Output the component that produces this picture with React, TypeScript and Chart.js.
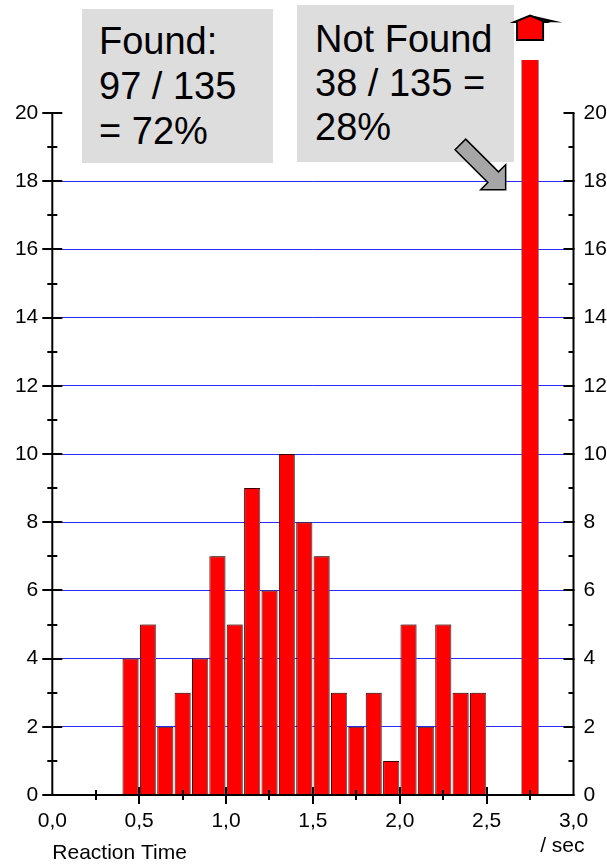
import React, { useEffect, useRef } from "react";
import { Chart, registerables } from "chart.js";

Chart.register(...registerables);

// ---- data ----
const binCenters = [0.45, 0.55, 0.65, 0.75, 0.85, 0.95, 1.05, 1.15, 1.25, 1.35, 1.45, 1.55, 1.65, 1.75, 1.85, 1.95, 2.05, 2.15, 2.25, 2.35, 2.45];
const foundCounts = [4, 5, 2, 3, 4, 7, 5, 9, 6, 10, 8, 7, 3, 2, 3, 1, 5, 2, 5, 3, 3];
const notFoundCenters = [2.75];
const notFoundCounts = [38];

const xMin = 0;
const xMax = 3;
const xStep = 0.5;
const yMin = 0;
const yMax = 20;
const yStep = 2;

const xTitle = "Reaction Time";
const xUnit = "/ sec";
const foundLines = ["Found:", "97 / 135", "= 72%"];
const notFoundLines = ["Not Found", "38 / 135 =", "28%"];

const FONT = "'Liberation Sans', Arial, Helvetica, sans-serif";

const fmtX = (v: number) => v.toFixed(1).replace(".", ",");

const barShadowPlugin = {
  id: "barShadow",
  beforeDatasetDraw(chart: any, args: any) {
    if (args.index !== 0) return;
    const ctx = chart.ctx;
    ctx.save();
    ctx.shadowColor = "rgba(120,120,120,0.9)";
    ctx.shadowOffsetX = 2;
    ctx.shadowOffsetY = 0;
    ctx.shadowBlur = 0;
  },
  afterDatasetDraw(chart: any, args: any) {
    if (args.index !== 0) return;
    chart.ctx.restore();
  },
};

const axesPlugin = {
  id: "customAxes",
  afterDatasetsDraw(chart: any) {
    const { ctx, chartArea: ca, scales } = chart;
    const x = scales.x;
    const y = scales.y;
    ctx.save();
    ctx.strokeStyle = "#000";
    ctx.lineWidth = 2;
    ctx.lineCap = "butt";
    const line = (x1: number, y1: number, x2: number, y2: number) => {
      ctx.beginPath();
      ctx.moveTo(x1, y1);
      ctx.lineTo(x2, y2);
      ctx.stroke();
    };
    line(ca.left, ca.top, ca.left, ca.bottom + 1);
    line(ca.right, ca.top, ca.right, ca.bottom + 1);
    line(ca.left - 1, ca.bottom, ca.right + 1, ca.bottom);
    for (let v = yMin; v <= yMax; v += 1) {
      const py = Math.round(y.getPixelForValue(v));
      const major = v % yStep === 0;
      const l = major ? 10 : 5;
      line(ca.left - l, py, ca.left + l, py);
      if (v !== 0) line(ca.right - l, py, ca.right + (major ? 1 : 0), py);
    }
    for (let i = 1; i < (xMax - xMin) / 0.25; i++) {
      const v = xMin + i * 0.25;
      const px = Math.round(x.getPixelForValue(v));
      const major = i % 2 === 0;
      line(px, ca.bottom - (major ? 8 : 5), px, ca.bottom + (major ? 9 : 5));
    }
    ctx.restore();
  },
  afterDraw(chart: any) {
    const { ctx, chartArea: ca } = chart;
    ctx.save();
    ctx.fillStyle = "#000";
    ctx.font = `21px ${FONT}`;
    ctx.textAlign = "right";
    ctx.textBaseline = "alphabetic";
    ctx.fillText(xUnit, ca.right + 11, ca.bottom + 57);

    const meta = chart.getDatasetMeta(1);
    const bar = meta.data[0];
    if (bar) {
      const bx = bar.x;
      const t = ca.top;
      ctx.lineJoin = "miter";
      ctx.fillStyle = "#000";
      ctx.beginPath();
      ctx.moveTo(bx, t - 98);
      ctx.lineTo(bx + 32.5, t - 90.5);
      ctx.lineTo(bx + 15, t - 91);
      ctx.closePath();
      ctx.fill();
      ctx.fillStyle = "#ff0000";
      ctx.strokeStyle = "#000";
      ctx.lineWidth = 2;
      ctx.beginPath();
      ctx.moveTo(bx - 15.5, t - 91);
      ctx.lineTo(bx, t - 97.5);
      ctx.lineTo(bx + 15.5, t - 91);
      ctx.lineTo(bx + 13, t - 91);
      ctx.lineTo(bx + 13, t - 73);
      ctx.lineTo(bx - 13, t - 73);
      ctx.lineTo(bx - 13, t - 91);
      ctx.closePath();
      ctx.fill();
      ctx.stroke();

      // gray pointer arrow
      const tx = bx - 24.4;
      const ty = t + 76.7;
      const L = 25;
      const w = 7.5 / Math.SQRT2;
      const mx = tx - L / 2;
      const my = ty - L / 2;
      const px = tx - 45.3;
      const py = ty - 45.3;
      ctx.fillStyle = "#a6a6a6";
      ctx.lineWidth = 1.5;
      ctx.beginPath();
      ctx.moveTo(tx, ty);
      ctx.lineTo(tx, ty - L);
      ctx.lineTo(mx + w, my - w);
      ctx.lineTo(px + w, py - w);
      ctx.lineTo(px - w, py + w);
      ctx.lineTo(mx - w, my + w);
      ctx.lineTo(tx - L, ty);
      ctx.closePath();
      ctx.fill();
      ctx.stroke();
    }
    ctx.restore();
  },
};

export default function App() {
  const canvasRef = useRef<HTMLCanvasElement | null>(null);

  useEffect(() => {
    const canvas = canvasRef.current;
    if (!canvas) return;
    const tickFont = { family: FONT, size: 21 };
    const chart = new Chart(canvas, {
      type: "bar",
      data: {
        datasets: [
          {
            label: "Found",
            data: binCenters.map((c, i) => ({ x: c, y: foundCounts[i] })),
            backgroundColor: "#ff0000",
            borderColor: "#3a0000",
            borderWidth: 1,
            borderSkipped: "bottom",
            barPercentage: 0.92,
            categoryPercentage: 1,
            grouped: false,
            yAxisID: "y",
          },
          {
            label: "Not Found",
            data: notFoundCenters.map((c, i) => ({ x: c, y: notFoundCounts[i] })),
            backgroundColor: "#ff0000",
            borderColor: "rgba(110,110,110,0.7)",
            borderWidth: 1,
            borderSkipped: "bottom",
            barPercentage: 1,
            categoryPercentage: 1,
            grouped: false,
            yAxisID: "y",
            clip: { top: 53, left: 0, right: 0, bottom: 0 },
          },
        ] as any,
      },
      options: {
        responsive: false,
        maintainAspectRatio: false,
        animation: false,
        devicePixelRatio: 1,
        layout: { padding: { top: 113, left: 0, right: 0, bottom: 0 } },
        plugins: {
          legend: { display: false },
          tooltip: { enabled: false },
        },
        scales: {
          x: {
            type: "linear",
            position: "bottom",
            min: xMin,
            max: xMax,
            offset: false,
            grid: { display: false, drawTicks: false },
            border: { display: false },
            ticks: {
              stepSize: xStep,
              autoSkip: false,
              maxRotation: 0,
              padding: 14,
              color: "#000",
              font: tickFont,
              callback: (v: any) => fmtX(Number(v)),
            },
            title: {
              display: true,
              text: xTitle,
              align: "start",
              color: "#000",
              font: { family: FONT, size: 21 },
              padding: { top: 0, bottom: 0 },
            },
            afterFit: (s: any) => {
              s.height = 71;
            },
          },
          y: {
            type: "linear",
            position: "left",
            min: yMin,
            max: yMax,
            grid: {
              drawTicks: false,
              lineWidth: 1,
              color: (c: any) =>
                c.tick && (c.tick.value === yMin || c.tick.value === yMax) ? "rgba(0,0,0,0)" : "#2a2aff",
            },
            border: { display: false },
            ticks: { stepSize: yStep, padding: 14, color: "#000", font: tickFont },
            afterFit: (s: any) => {
              s.width = 52.3;
            },
          },
          y2: {
            type: "linear",
            position: "right",
            min: yMin,
            max: yMax,
            grid: { display: false, drawTicks: false },
            border: { display: false },
            ticks: { stepSize: yStep, padding: 10, color: "#000", font: tickFont },
            afterFit: (s: any) => {
              s.width = 33.5;
            },
          },
        },
      } as any,
      plugins: [barShadowPlugin, axesPlugin],
    });
    return () => chart.destroy();
  }, []);

  const boxText: React.CSSProperties = {
    position: "absolute",
    zIndex: 0,
    background: "#dddddd",
    color: "#000",
    fontFamily: FONT,
    fontSize: 38,
    whiteSpace: "pre",
    boxSizing: "border-box",
  };

  return (
    <div style={{ position: "absolute", left: 0, top: 0, width: 607, height: 866, background: "#fff" }}>
      <div style={{ ...boxText, left: 82, top: 9, width: 191, height: 154, paddingLeft: 17, paddingTop: 10, lineHeight: "45px" }}>
        {foundLines.map((l, i) => (
          <div key={i}>{l}</div>
        ))}
      </div>
      <div style={{ ...boxText, left: 297, top: 5, width: 217, height: 157, paddingLeft: 18, paddingTop: 11.5, lineHeight: "44px" }}>
        {notFoundLines.map((l, i) => (
          <div key={i}>{l}</div>
        ))}
      </div>
      <canvas
        ref={canvasRef}
        width={607}
        height={866}
        style={{ position: "absolute", left: 0, top: 0, zIndex: 1, display: "block", width: 607, height: 866 }}
      />
    </div>
  );
}
